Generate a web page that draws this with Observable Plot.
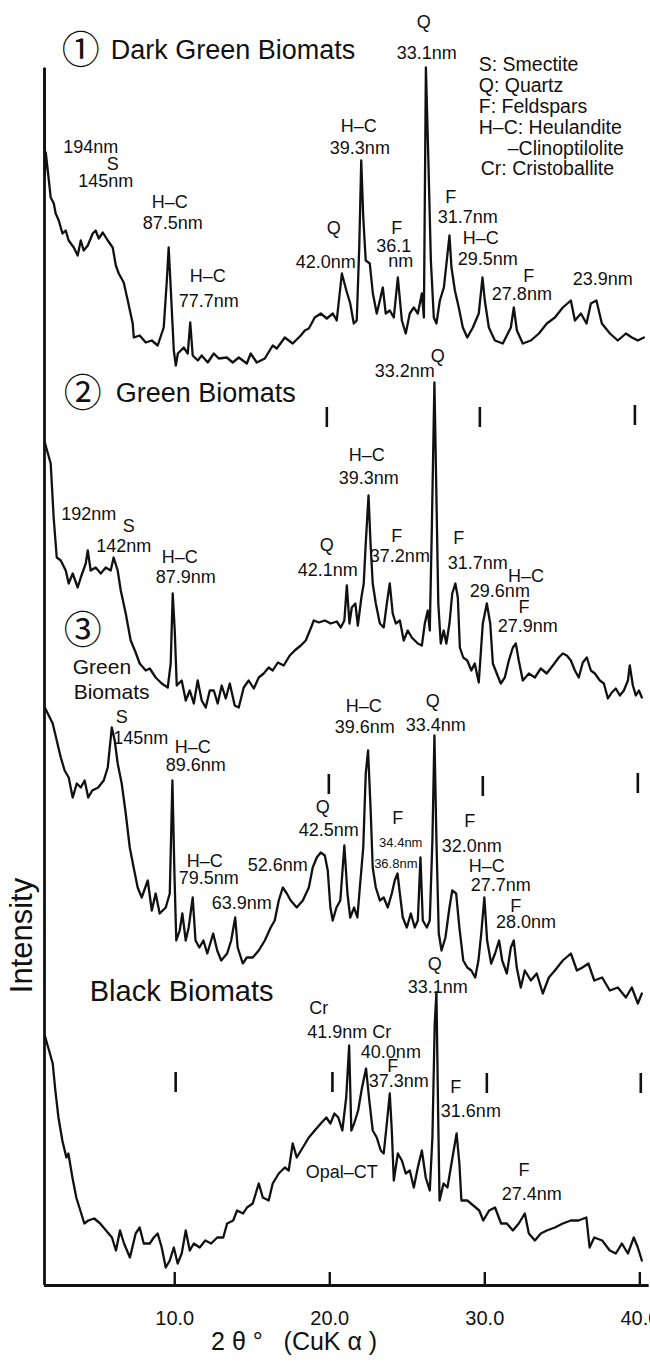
<!DOCTYPE html>
<html><head><meta charset="utf-8">
<script src="https://cdn.jsdelivr.net/npm/d3@7"></script>
<script src="https://cdn.jsdelivr.net/npm/@observablehq/plot@0.6"></script>
<style>body{margin:0;background:#fff} #chart svg{display:block}</style>
</head><body><div id="chart"></div>
<script>
// ---- data: 2θ (deg) and intensity (arbitrary units, per-trace baseline) ----
const traceNames = ["Dark Green Biomats", "Green Biomats 2", "Green Biomats 3", "Black Biomats"];
const traceOffsets = [880, 560, 280, 0];

const darkGreen = [[1.60,337],[1.62,230],[1.68,253],[1.79,238],[2.00,208],[2.20,202],[2.32,192],[2.52,185],[2.76,172],[2.97,175],[3.16,165],[3.49,158],[3.74,150],[3.94,165],[4.13,155],[4.39,160],[4.71,172],[4.90,175],[5.10,167],[5.36,173],[5.68,165],[6.00,158],[6.20,140],[6.39,132],[6.71,123],[6.97,105],[7.29,82],[7.36,68],[7.74,70],[8.13,63],[8.52,65],[8.90,60],[9.29,78],[9.49,125],[9.61,158],[9.74,118],[9.94,55],[10.07,40],[10.20,52],[10.58,58],[10.84,52],[11.00,83],[11.16,50],[11.49,45],[11.74,50],[12.13,43],[12.52,52],[12.84,47],[13.36,48],[13.74,43],[14.13,48],[14.65,42],[14.90,52],[15.29,43],[15.81,47],[16.32,60],[16.58,57],[17.10,68],[17.61,62],[18.13,70],[18.39,75],[18.65,77],[19.03,88],[19.42,92],[19.81,87],[20.20,92],[20.45,85],[20.78,132],[21.07,115],[21.32,102],[21.55,82],[21.74,85],[21.90,158],[22.03,245],[22.16,188],[22.32,145],[22.58,142],[22.78,112],[23.03,92],[23.23,105],[23.42,118],[23.61,92],[23.87,95],[24.13,88],[24.39,128],[24.65,85],[24.90,72],[25.16,92],[25.42,98],[25.68,92],[25.94,112],[26.07,88],[26.20,338],[26.36,245],[26.52,145],[26.71,88],[26.88,82],[27.10,105],[27.36,118],[27.72,170],[27.85,138],[28.07,115],[28.32,98],[28.58,78],[28.87,68],[29.23,78],[29.61,92],[29.85,128],[30.00,105],[30.26,78],[30.65,65],[31.16,62],[31.68,78],[31.87,98],[32.07,75],[32.45,62],[32.97,65],[33.49,72],[34.00,82],[34.52,88],[35.03,98],[35.55,105],[35.81,85],[36.20,92],[36.56,82],[36.84,102],[37.20,105],[37.55,82],[38.07,72],[38.58,65],[39.10,72],[39.49,68],[39.87,65],[40.26,68]];

const green2 = [[1.62,283],[2.00,262],[2.19,208],[2.39,168],[2.65,165],[2.97,155],[3.16,142],[3.42,152],[3.74,138],[3.94,148],[4.26,162],[4.39,175],[4.58,155],[4.90,158],[5.23,152],[5.55,158],[5.87,155],[6.06,168],[6.32,155],[6.52,135],[6.84,112],[7.16,85],[7.48,73],[7.74,62],[8.13,55],[8.39,57],[8.77,48],[9.16,42],[9.55,38],[9.74,62],[9.87,132],[10.00,95],[10.13,40],[10.45,45],[10.71,25],[10.97,35],[11.23,22],[11.48,45],[11.74,25],[12.00,18],[12.26,35],[12.52,35],[12.77,22],[13.03,40],[13.29,27],[13.55,42],[13.87,20],[14.13,18],[14.45,38],[14.77,45],[15.10,37],[15.42,48],[15.74,52],[16.06,58],[16.32,55],[16.65,63],[17.03,60],[17.42,70],[17.74,75],[18.13,80],[18.45,85],[18.77,97],[18.97,105],[19.29,103],[19.68,105],[20.06,102],[20.45,104],[20.71,98],[20.94,105],[21.10,140],[21.27,102],[21.42,118],[21.65,122],[21.81,100],[22.04,128],[22.19,142],[22.32,182],[22.50,230],[22.63,182],[22.77,142],[22.97,122],[23.23,102],[23.48,98],[23.68,122],[23.87,142],[24.06,112],[24.26,102],[24.52,105],[24.77,85],[25.03,95],[25.29,88],[25.68,82],[25.94,80],[26.13,102],[26.32,115],[26.45,95],[26.58,195],[26.75,343],[26.88,228],[27.00,122],[27.16,82],[27.35,95],[27.52,82],[27.72,102],[27.90,132],[28.10,142],[28.26,128],[28.39,78],[28.61,68],[28.87,65],[29.13,55],[29.35,62],[29.61,43],[29.87,102],[30.13,122],[30.35,102],[30.52,62],[30.77,52],[31.03,42],[31.29,48],[31.55,65],[31.81,78],[32.00,82],[32.19,65],[32.45,45],[32.84,52],[33.23,48],[33.61,57],[33.99,52],[34.39,60],[34.77,68],[35.03,72],[35.29,70],[35.55,65],[35.81,55],[36.06,48],[36.32,63],[36.58,68],[36.84,55],[37.10,52],[37.42,45],[37.68,42],[37.94,27],[38.19,33],[38.45,37],[38.71,30],[38.97,35],[39.23,45],[39.35,60],[39.55,40],[39.74,30],[39.94,35],[40.13,28]];

const green3 = [[1.62,298],[2.13,282],[2.39,265],[2.65,248],[2.90,235],[3.16,228],[3.42,208],[3.68,222],[3.94,218],[4.19,225],[4.42,208],[4.68,215],[5.06,218],[5.42,225],[5.68,238],[5.94,278],[6.13,265],[6.32,242],[6.58,222],[6.84,192],[7.10,158],[7.35,138],[7.61,118],[7.87,108],[8.26,125],[8.52,95],[8.77,112],[9.03,92],[9.42,98],[9.68,112],[9.85,225],[9.98,132],[10.10,65],[10.32,75],[10.49,92],[10.71,65],[10.90,78],[11.16,108],[11.34,65],[11.59,58],[11.85,65],[12.10,52],[12.48,72],[12.74,55],[13.00,45],[13.38,52],[13.64,65],[13.90,88],[14.06,58],[14.39,42],[14.65,48],[15.03,48],[15.42,55],[15.81,65],[16.19,78],[16.45,85],[16.71,105],[16.97,118],[17.23,112],[17.48,105],[17.87,98],[18.26,105],[18.65,118],[18.90,138],[19.16,148],[19.42,153],[19.68,150],[19.87,135],[20.04,98],[20.19,85],[20.43,98],[20.68,105],[20.94,160],[21.14,112],[21.32,88],[21.57,98],[21.78,88],[21.94,118],[22.16,158],[22.32,232],[22.47,255],[22.63,198],[22.77,138],[22.97,118],[23.23,105],[23.48,108],[23.74,98],[24.00,112],[24.19,125],[24.37,132],[24.52,112],[24.71,88],[24.97,78],[25.23,92],[25.48,78],[25.68,85],[25.85,148],[26.00,85],[26.26,78],[26.45,85],[26.62,165],[26.75,270],[26.88,165],[27.03,72],[27.21,55],[27.46,68],[27.72,98],[27.90,115],[28.15,112],[28.36,78],[28.61,45],[28.87,38],[29.13,35],[29.38,28],[29.59,45],[29.77,72],[29.97,108],[30.15,65],[30.41,42],[30.66,52],[30.92,65],[31.12,45],[31.42,32],[31.68,58],[31.87,65],[32.06,38],[32.32,18],[32.58,35],[32.97,25],[33.35,32],[33.74,12],[34.13,28],[34.52,35],[35.03,45],[35.55,52],[35.94,35],[36.30,38],[36.68,42],[37.06,25],[37.57,28],[38.06,15],[38.58,18],[39.10,8],[39.48,18],[39.87,2],[40.13,12]];

const black = [[1.62,250],[2.13,222],[2.30,195],[2.50,168],[2.75,145],[3.01,128],[3.14,132],[3.40,108],[3.65,88],[3.91,75],[4.17,62],[4.42,65],[4.81,67],[5.19,62],[5.57,55],[5.95,48],[6.21,35],[6.47,55],[6.73,42],[7.11,28],[7.48,52],[7.74,58],[8.00,42],[8.39,42],[8.65,48],[8.90,52],[9.16,38],[9.42,18],[9.68,25],[9.94,38],[10.19,22],[10.45,32],[10.71,55],[10.97,35],[11.23,42],[11.61,38],[11.97,45],[12.35,42],[12.74,48],[13.13,48],[13.38,62],[13.77,65],[14.02,75],[14.41,72],[14.66,78],[15.03,82],[15.42,102],[15.68,88],[16.06,85],[16.32,102],[16.71,112],[17.10,118],[17.35,115],[17.61,142],[17.87,128],[18.26,138],[18.65,148],[19.03,155],[19.42,162],[19.78,168],[20.04,162],[20.30,172],[20.55,168],[20.81,155],[21.06,188],[21.25,240],[21.39,155],[21.57,162],[21.83,175],[22.08,198],[22.34,217],[22.55,185],[22.77,155],[23.03,148],[23.29,135],[23.48,132],[23.68,162],[23.87,192],[24.00,155],[24.13,105],[24.39,132],[24.65,125],[24.90,112],[25.16,115],[25.42,98],[25.68,118],[25.94,135],[26.19,108],[26.45,95],[26.62,148],[26.77,262],[26.88,293],[27.00,162],[27.08,85],[27.34,102],[27.59,98],[27.85,122],[28.18,152],[28.36,122],[28.49,85],[28.87,85],[29.26,80],[29.64,75],[29.90,65],[30.28,75],[30.66,78],[31.05,62],[31.42,62],[31.81,55],[32.19,62],[32.58,72],[32.84,52],[33.23,45],[33.61,52],[34.00,55],[34.52,58],[35.03,62],[35.55,65],[36.04,65],[36.55,68],[36.76,38],[37.06,48],[37.57,45],[38.06,35],[38.45,32],[38.84,42],[39.23,32],[39.61,48],[39.87,38],[40.13,25]];

const axisTicks = [10, 20, 30, 40];
// short 2θ reference marks drawn on each pattern: [2θ, level]
const traceMarks = [[19.81,868],[29.68,868],[39.68,870],[19.94,501],[29.87,499],[39.87,502],[10.06,203],[20.17,203],[30.13,202],[40.06,202]];

// peak labels: [text, 2θ, level]
const peakLabels = [
  ["Q",26.06,1263],["33.1nm",26.26,1232],["194nm",4.58,1138],["S",6.00,1121],["145nm",5.55,1104],["H–C",9.68,1083],["87.5nm",9.87,1062],["H–C",12.13,1009],["77.7nm",12.19,984],["H–C",21.87,1159],["39.3nm",21.94,1137],["Q",20.26,1057],["42.0nm",19.74,1023],["F",24.32,1057],["36.1",24.13,1039],["nm",24.58,1024],["F",27.81,1088],["31.7nm",28.90,1068],["H–C",29.74,1047],["29.5nm",30.19,1026],["F",32.84,1009],["27.8nm",32.39,991],["23.9nm",37.61,1006],
  ["Q",26.97,929],["33.2nm",24.84,914],["H–C",22.39,830],["39.3nm",22.52,807],["F",24.32,749],["37.2nm",24.52,729],["F",28.32,747],["31.7nm",29.55,722],["H–C",32.65,709],["29.6nm",30.97,694],["F",32.52,678],["27.9nm",32.77,659],["192nm",4.45,771],["S",7.03,759],["142nm",6.71,739],["H–C",10.32,728],["87.9nm",10.71,708],["Q",19.81,740],["42.1nm",19.87,715],
  ["S",6.58,568],["145nm",7.81,547],["H–C",11.16,538],["89.6nm",11.35,520],["H–C",11.94,424],["79.5nm",12.19,407],["52.6nm",16.65,420],["63.9nm",14.32,382],["Q",19.55,478],["42.5nm",19.94,455],["H–C",22.19,579],["39.6nm",22.26,558],["Q",26.65,584],["33.4nm",26.84,560],["F",24.39,467],["F",29.03,464],["32.0nm",29.16,439],["H–C",30.13,419],["27.7nm",31.03,400],["F",32.00,379],["28.0nm",32.65,363],
  ["Q",26.77,321],["33.1nm",26.97,298],["Cr",19.29,277],["41.9nm Cr",21.26,253],["40.0nm",23.94,233],["F",24.06,219],["37.3nm",24.45,204],["F",28.13,198],["31.6nm",29.10,174],["Opal–CT",20.77,113],["F",32.52,115],["27.4nm",33.03,91]
];
const smallLabels = [["34.4nm",24.58,443],["36.8nm",24.26,422]];

const sampleNumbers = [["①",3.94,1235],["②",4.06,892],["③",4.06,655]];
const sampleTitles = [["Dark Green Biomats",5.87,1235],["Green Biomats",6.19,892]];
const sampleTitlesSmall = [["Green",3.42,618],["Biomats",3.48,593]];
const blackTitle = [["Black Biomats",4.52,294]];
const legendLines = [["S: Smectite",29.61,1221],["Q: Quartz",29.61,1200],["F: Feldspars",29.61,1179],["H–C: Heulandite",29.61,1158],["–Clinoptilolite",31.48,1137],["Cr: Cristoballite",29.74,1117]];

// ---- build ----
const rows = [darkGreen, green2, green3, black].flatMap((pts, i) =>
  pts.map(([t, v]) => ({trace: traceNames[i], theta: t, y: v + traceOffsets[i]})));
const font = "'Liberation Sans', Arial, sans-serif";
const ink = "#111";
const lbl = (arr) => arr.map(([text, theta, level]) => ({text, theta, level}));

const chart = Plot.plot({
  width: 650, height: 1365,
  marginLeft: 44, marginRight: 6, marginTop: 68, marginBottom: 80,
  style: {fontFamily: font, background: "#fff", color: ink, overflow: "visible"},
  x: {domain: [1.6, 40.3]},
  y: {domain: [0, 1217], axis: null},
  marks: [
    Plot.line(rows, {x: "theta", y: "y", z: "trace", stroke: ink, strokeWidth: 2.3, strokeLinejoin: "round"}),
    Plot.ruleX([1.6], {y1: 0, y2: 1217, stroke: ink, strokeWidth: 2.8}),
    Plot.ruleY([0], {x1: 1.6, x2: 40.6, stroke: ink, strokeWidth: 2.8}),
    Plot.ruleX(axisTicks, {x: d => d, y1: 0, y2: 13, stroke: ink, strokeWidth: 2.4}),
    Plot.ruleX(traceMarks, {x: d => d[0], y1: d => d[1] - 10, y2: d => d[1] + 10, stroke: ink, strokeWidth: 2.6}),
    Plot.axisX({ticks: axisTicks, tickFormat: d => d.toFixed(1), tickSize: 0, tickPadding: 25, fontSize: 20, label: null, fill: ink}),
    Plot.text(["2\u00a0θ\u00a0°\u00a0\u00a0\u00a0(CuK\u00a0α\u00a0)"], {x: [17.7], frameAnchor: "bottom", dy: 64, fontSize: 25, fill: ink}),
    Plot.text(["Intensity"], {x: [0.15], y: [350], rotate: -90, fontSize: 31, fill: ink}),
    Plot.text(lbl(peakLabels), {x: "theta", y: "level", text: "text", fontSize: 18, fill: ink}),
    Plot.text(lbl(smallLabels), {x: "theta", y: "level", text: "text", fontSize: 13, fill: ink}),
    Plot.text(lbl(sampleNumbers), {x: "theta", y: "level", text: "text", fontSize: 38, fontFamily: "'Noto Sans CJK JP', 'DejaVu Sans', sans-serif", fill: ink}),
    Plot.text(lbl(sampleTitles), {x: "theta", y: "level", text: "text", fontSize: 27, textAnchor: "start", fill: ink}),
    Plot.text(lbl(sampleTitlesSmall), {x: "theta", y: "level", text: "text", fontSize: 21, textAnchor: "start", fill: ink}),
    Plot.text(lbl(blackTitle), {x: "theta", y: "level", text: "text", fontSize: 29, textAnchor: "start", fill: ink}),
    Plot.text(lbl(legendLines), {x: "theta", y: "level", text: "text", fontSize: 19.5, textAnchor: "start", fill: ink})
  ]
});
document.getElementById("chart").append(chart);
</script>
</body></html>
